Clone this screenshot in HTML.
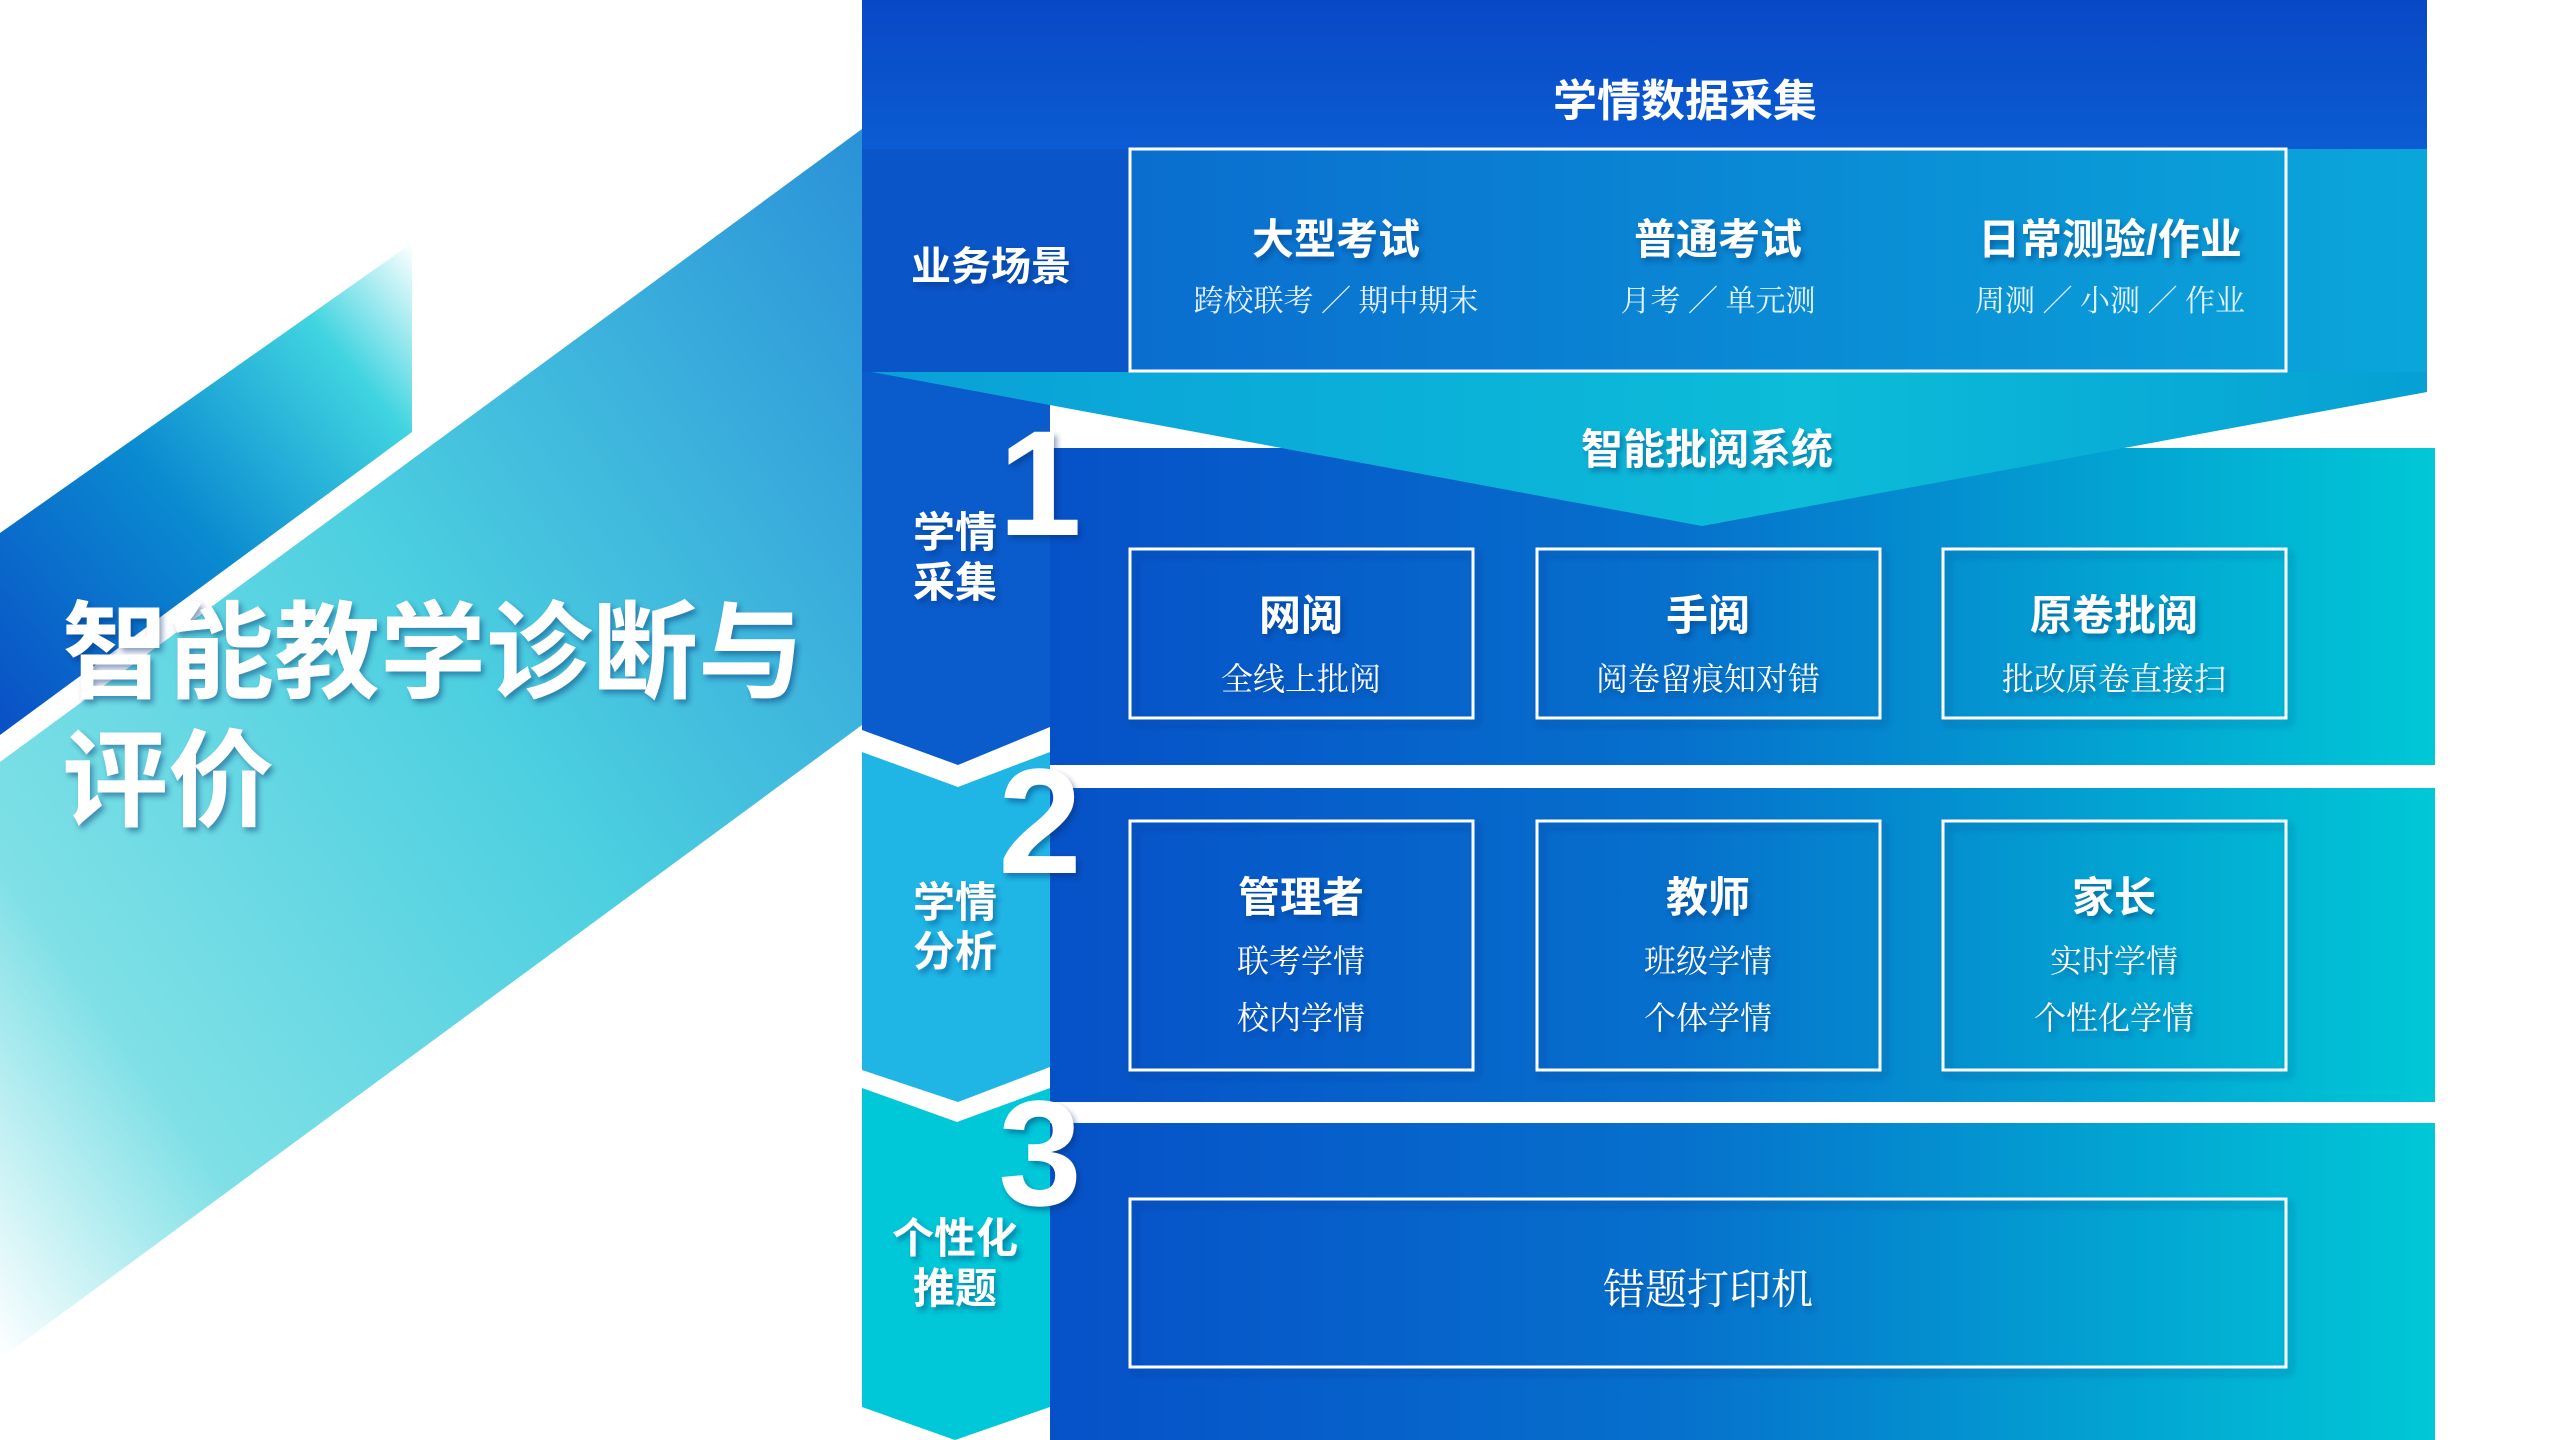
<!DOCTYPE html>
<html><head><meta charset="utf-8"><style>
html,body{margin:0;padding:0;background:#fff;}
svg{display:block}
text{font-family:"Liberation Sans","Noto Sans CJK SC",sans-serif;fill:#fff;}
text.s{font-family:"Liberation Serif","Noto Serif CJK SC",serif;}
.b{font-weight:700}
.sh{filter:url(#ds)}
</style></head><body>
<svg width="2560" height="1440" viewBox="0 0 2560 1440" xmlns="http://www.w3.org/2000/svg">
<defs>
<filter id="ds" x="-20%" y="-20%" width="140%" height="140%"><feDropShadow dx="3" dy="4" stdDeviation="3" flood-color="#002a70" flood-opacity="0.45"/></filter>
<filter id="bs" x="-5%" y="-5%" width="110%" height="120%"><feDropShadow dx="4" dy="5" stdDeviation="4" flood-color="#002a70" flood-opacity="0.35"/></filter>
<linearGradient id="band" x1="1" y1="0" x2="0" y2="1">
<stop offset="0" stop-color="#2a92d8"/><stop offset="0.45" stop-color="#4ccfe0"/><stop offset="0.8" stop-color="#7fe0e6"/><stop offset="1" stop-color="#ffffff"/></linearGradient>
<linearGradient id="dark" x1="0" y1="1" x2="1" y2="0">
<stop offset="0" stop-color="#0a4fc6"/><stop offset="0.45" stop-color="#0a8ad0"/><stop offset="0.8" stop-color="#40d4e0"/><stop offset="1" stop-color="#ffffff"/></linearGradient>
<linearGradient id="sec" x1="0" y1="0" x2="1" y2="0">
<stop offset="0" stop-color="#0651c8"/><stop offset="0.45" stop-color="#0670cc"/><stop offset="1" stop-color="#00c8d6"/></linearGradient>
<linearGradient id="top" x1="0" y1="0" x2="0" y2="1">
<stop offset="0" stop-color="#0848c6"/><stop offset="1" stop-color="#0b5cd2"/></linearGradient>
<linearGradient id="biz" x1="0" y1="0" x2="1" y2="0">
<stop offset="0" stop-color="#0a62cc"/><stop offset="1" stop-color="#0aa6da"/></linearGradient>
<linearGradient id="chev" x1="0" y1="0" x2="1" y2="0">
<stop offset="0" stop-color="#0aa0d8"/><stop offset="0.6" stop-color="#0cbcd8"/><stop offset="1" stop-color="#06a0d4"/></linearGradient>
</defs>

<polygon points="0,533 412,243 412,432 0,735" fill="url(#dark)"/>
<polygon points="862,129 862,725 0,1359 0,762" fill="url(#band)"/>

<text class="b sh" x="62" y="690" font-size="106">智能教学诊断与</text>
<text class="b sh" x="62" y="818" font-size="106">评价</text>

<rect x="1050" y="448" width="1385" height="317" fill="url(#sec)"/>
<rect x="1050" y="788" width="1385" height="314" fill="url(#sec)"/>
<rect x="1050" y="1123" width="1385" height="317" fill="url(#sec)"/>

<rect x="862" y="0" width="1565" height="149" fill="url(#top)"/>
<rect x="862" y="149" width="1565" height="223" fill="url(#biz)"/>
<rect x="862" y="149" width="268" height="223" fill="#0a55c8"/>
<polygon points="862,372 1050,372 1050,727 958,765 862,730" fill="#0a5ccc"/>
<polygon points="862,752 958,787 1050,752 1050,1067 958,1102 862,1070" fill="#1fb6e6"/>
<polygon points="862,1088 957,1122 1050,1088 1050,1407 955,1440 862,1407" fill="#00c8d8"/>
<polygon points="872,372 2427,372 2427,392 1702,526" fill="url(#chev)"/>

<text class="b" x="1685" y="116" font-size="44" text-anchor="middle">学情数据采集</text>
<text class="b sh" x="991" y="280" font-size="40" text-anchor="middle">业务场景</text>
<rect x="1130" y="149" width="1156" height="222" fill="none" stroke="#fff" stroke-width="3"/>
<text class="b sh" x="1336" y="254" font-size="42" text-anchor="middle">大型考试</text>
<text class="b sh" x="1718" y="254" font-size="42" text-anchor="middle">普通考试</text>
<text class="b sh" x="2110" y="254" font-size="42" text-anchor="middle">日常测验/作业</text>
<text class="s" x="1336" y="311" font-size="30" text-anchor="middle" fill-opacity="0.9">跨校联考 ／ 期中期末</text>
<text class="s" x="1718" y="311" font-size="30" text-anchor="middle" fill-opacity="0.9">月考 ／ 单元测</text>
<text class="s" x="2110" y="311" font-size="30" text-anchor="middle" fill-opacity="0.9">周测 ／ 小测 ／ 作业</text>
<text class="b sh" x="1707" y="464" font-size="42" text-anchor="middle">智能批阅系统</text>

<text class="b sh" x="1040" y="535" font-size="150" text-anchor="middle">1</text>
<text class="b sh" x="1040" y="873" font-size="150" text-anchor="middle">2</text>
<text class="b sh" x="1040" y="1205" font-size="150" text-anchor="middle">3</text>
<text class="b sh" x="955" y="547" font-size="42" text-anchor="middle">学情</text>
<text class="b sh" x="955" y="597" font-size="42" text-anchor="middle">采集</text>
<text class="b sh" x="955" y="917" font-size="42" text-anchor="middle">学情</text>
<text class="b sh" x="955" y="966" font-size="42" text-anchor="middle">分析</text>
<text class="b sh" x="955" y="1253" font-size="42" text-anchor="middle">个性化</text>
<text class="b sh" x="955" y="1303" font-size="42" text-anchor="middle">推题</text>

<g fill="none" stroke="#fff" stroke-width="3" filter="url(#bs)">
<rect x="1130" y="549" width="343" height="169"/>
<rect x="1537" y="549" width="343" height="169"/>
<rect x="1943" y="549" width="343" height="169"/>
<rect x="1130" y="821" width="343" height="249"/>
<rect x="1537" y="821" width="343" height="249"/>
<rect x="1943" y="821" width="343" height="249"/>
<rect x="1130" y="1199" width="1156" height="168"/>
</g>
<text class="b sh" x="1301" y="630" font-size="42" text-anchor="middle">网阅</text>
<text class="b sh" x="1708" y="630" font-size="42" text-anchor="middle">手阅</text>
<text class="b sh" x="2114" y="630" font-size="42" text-anchor="middle">原卷批阅</text>
<text class="s sh" x="1301" y="690" font-size="32" text-anchor="middle">全线上批阅</text>
<text class="s sh" x="1708" y="690" font-size="32" text-anchor="middle">阅卷留痕知对错</text>
<text class="s sh" x="2114" y="690" font-size="32" text-anchor="middle">批改原卷直接扫</text>

<text class="b sh" x="1301" y="912" font-size="42" text-anchor="middle">管理者</text>
<text class="b sh" x="1708" y="912" font-size="42" text-anchor="middle">教师</text>
<text class="b sh" x="2114" y="912" font-size="42" text-anchor="middle">家长</text>
<text class="s sh" x="1301" y="972" font-size="32" text-anchor="middle">联考学情</text>
<text class="s sh" x="1301" y="1029" font-size="32" text-anchor="middle">校内学情</text>
<text class="s sh" x="1708" y="972" font-size="32" text-anchor="middle">班级学情</text>
<text class="s sh" x="1708" y="1029" font-size="32" text-anchor="middle">个体学情</text>
<text class="s sh" x="2114" y="972" font-size="32" text-anchor="middle">实时学情</text>
<text class="s sh" x="2114" y="1029" font-size="32" text-anchor="middle">个性化学情</text>

<text class="s sh" x="1708" y="1304" font-size="42" text-anchor="middle">错题打印机</text>
</svg>
</body></html>
